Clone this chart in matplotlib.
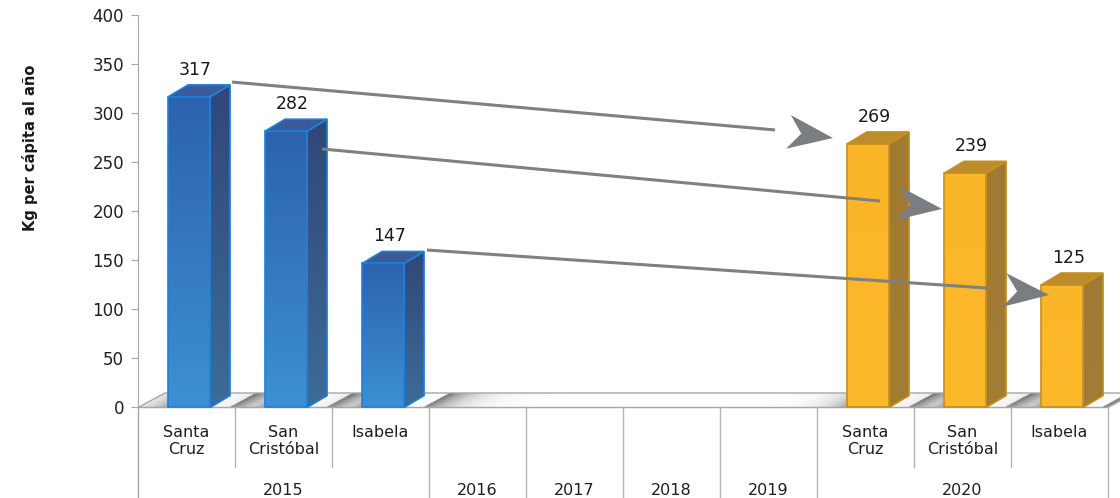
import numpy as np
import matplotlib.pyplot as plt
from matplotlib.patches import Polygon
from matplotlib.colors import to_rgb
from matplotlib.transforms import IdentityTransform

# ---- data ----
years = ['2015', '2016', '2017', '2018', '2019', '2020']
year_span = [3, 1, 1, 1, 1, 3]
islands = ['Santa\nCruz', 'San\nCristóbal', 'Isabela']
vals_2015 = [317, 282, 147]
vals_2020 = [269, 239, 125]

# connector arrows 2015 -> 2020 (start, line end, arrow tip) in (slot, kg)
arrow_start = [(0.969, 332.1), (1.897, 263.8), (2.979, 160.7)]
arrow_end = [(6.567, 283.2), (7.649, 210.7), (8.753, 121.9)]
arrow_tip = [(7.165, 275.0), (8.289, 202.6), (9.392, 114.8)]

# ---- geometry / style ----
W = 0.433          # bar front width (slot units)
OFF = 0.31         # bar left offset inside slot
DX, DY = 0.206, 12.2     # bar depth
FDX, FDY = 0.278, 14.8   # floor depth
YMIN = -92.35
XMAX = 982 / 97

blue = dict(front=('#2C62AE', '#3C90D3'), side=('#32467A', '#3C6C97'),
            top='#3A5A9C', edge='#1F80D8')
gold = dict(front=('#FBB628', '#FBB92B'), side=('#A07A32', '#A37D34'),
            top='#BD8D2C', edge='#C4901F')

fig = plt.figure(figsize=(11.2, 4.98), dpi=100)
ax = fig.add_axes([138 / 1120, 0, 1 - 138 / 1120, 1 - 15.5 / 498])
ax.set_autoscale_on(False)
ax.set_xlim(0, XMAX)
ax.set_ylim(YMIN, 400)

for s in ['top', 'right', 'bottom']:
    ax.spines[s].set_visible(False)
ax.spines['left'].set_color('#a6a6a6')
ax.set_xticks([])
ax.set_yticks(range(0, 401, 50))
ax.tick_params(axis='y', length=5, color='#a6a6a6', labelsize=12,
               labelcolor='#1f1f1f', pad=5)


def grad_fill(verts, c_top, c_bot, z):
    verts = np.array(verts)
    x0, x1 = verts[:, 0].min(), verts[:, 0].max()
    y0, y1 = verts[:, 1].min(), verts[:, 1].max()
    t = np.linspace(0, 1, 64)[:, None, None]
    img = np.array(to_rgb(c_top)) * (1 - t) + np.array(to_rgb(c_bot)) * t
    im = ax.imshow(img, extent=[x0, x1, y0, y1], origin='upper',
                   aspect='auto', zorder=z, interpolation='bilinear')
    im.set_clip_path(Polygon(verts, closed=True, transform=ax.transData))
    return im


# bar positions from the year spans
starts = np.concatenate([[0], np.cumsum(year_span)])
bars = []
for i, v in enumerate(vals_2015):
    bars.append((starts[0] + i + OFF, v, blue))
for i, v in enumerate(vals_2020):
    bars.append((starts[5] + i + OFF, v, gold))

# ---- floor with shading near bars ----
nx, ny = 1400, 30
xs = np.linspace(0, 10 + FDX, nx)
ys = np.linspace(0, FDY, ny)
X, Y = np.meshgrid(xs, ys)
U = X - Y / FDY * FDX
dark = np.zeros_like(U)
for x, v, sty in bars:
    a, b = x, x + W + DX
    left = np.where(U < a, 0.45 * np.exp(-(a - U) / 0.2), 0)
    right = np.where(U > b, 0.6 * np.exp(-(U - b) / 0.24), 0)
    dark = np.maximum(dark, np.maximum(left, right))
dark *= 0.85 + 0.15 * (Y / FDY)
g = 1 - dark
floor_img = np.dstack([g, g, g])
floor_poly = [(0, 0), (10, 0), (10 + FDX, FDY), (FDX, FDY)]
im = ax.imshow(floor_img, extent=[0, 10 + FDX, 0, FDY], origin='lower',
               aspect='auto', zorder=1, interpolation='bilinear')
im.set_clip_path(Polygon(floor_poly, closed=True, transform=ax.transData))
ax.add_patch(Polygon(floor_poly, closed=True, fill=False, edgecolor='#a6a6a6',
                     lw=1, zorder=2, clip_on=False))

# ---- 3D bars ----
z = 3
for x, v, sty in bars:
    front = [(x, 0), (x + W, 0), (x + W, v), (x, v)]
    side = [(x + W, 0), (x + W + DX, DY), (x + W + DX, v + DY), (x + W, v)]
    top = [(x, v), (x + W, v), (x + W + DX, v + DY), (x + DX, v + DY)]
    grad_fill(side, sty['side'][0], sty['side'][1], z)
    ax.add_patch(Polygon(top, closed=True, facecolor=sty['top'],
                         edgecolor=sty['edge'], lw=1.2, zorder=z + 0.1))
    ax.add_patch(Polygon(side, closed=True, fill=False,
                         edgecolor=sty['edge'], lw=1.2, zorder=z + 0.1))
    grad_fill(front, sty['front'][0], sty['front'][1], z + 0.2)
    ax.add_patch(Polygon(front, closed=True, fill=False,
                         edgecolor=sty['edge'], lw=1.2, zorder=z + 0.3))
    ax.annotate(str(v), (x + W / 2, v), xytext=(4.5, 19.5),
                textcoords='offset points', ha='center', va='center',
                fontsize=12.5, color='#1a1a1a', zorder=20)
    z += 1

# ---- category table below the floor ----
inner_y = -(467 - 407.5) / 0.98
for b in starts:
    ax.plot([b, b], [0, YMIN], color='#b4b4b4', lw=1, clip_on=False, zorder=2)
for yi, sp in enumerate(year_span):
    if sp > 1:
        for k in range(1, sp):
            bx = starts[yi] + k
            ax.plot([bx, bx], [0, inner_y], color='#b4b4b4', lw=1,
                    clip_on=False, zorder=2)
        for k in range(sp):
            ax.text(starts[yi] + k + 0.5, -17.5, islands[k], ha='center',
                    va='top', fontsize=11.5, color='#1f1f1f')
    ax.text(starts[yi] + sp / 2, -84.5, years[yi], ha='center', va='center',
            fontsize=11.5, color='#1f1f1f')

# ---- connector arrows ----
for (x0, y0), (x1, y1), (xt, yt) in zip(arrow_start, arrow_end, arrow_tip):
    ax.plot([x0, x1], [y0, y1], color='#808080', lw=2.2, zorder=15,
            solid_capstyle='butt')
    pe = ax.transData.transform((x1, y1))
    pt = ax.transData.transform((xt, yt))
    u = (pt - pe) / np.hypot(*(pt - pe))
    n = np.array([-u[1], u[0]])
    L, HW, N = 45, 17, 13
    pts = [pt, pt - L * u + HW * n, pt - (L - N) * u, pt - L * u - HW * n]
    ax.add_patch(Polygon(pts, closed=True, transform=IdentityTransform(),
                         facecolor='#7b7e80', edgecolor='none', zorder=16))

fig.text(30 / 1120, 1 - 148 / 498, 'Kg per cápita al año', rotation=90,
         ha='center', va='center', fontsize=10.5, fontweight='bold',
         color='#1a1a1a')

fig.savefig('out.png', dpi=100)
